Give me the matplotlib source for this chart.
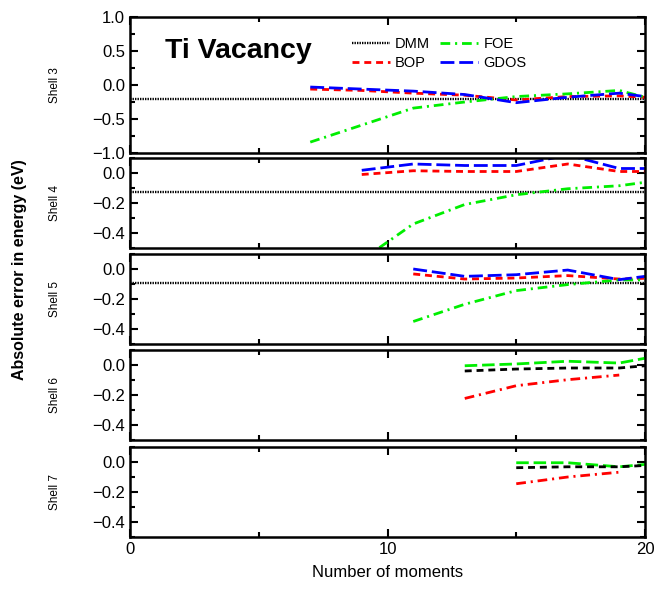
import matplotlib
matplotlib.use("Agg")
import matplotlib.pyplot as plt
from matplotlib.ticker import MultipleLocator

plt.rcParams['font.family'] = ['Liberation Sans', 'DejaVu Sans']
plt.rcParams['lines.scale_dashes'] = False

# ---------------- data ----------------
shells = ["Shell 3", "Shell 4", "Shell 5", "Shell 6", "Shell 7"]

# Shell 3
s3_x = [7, 9, 11, 13, 15, 17, 19, 20]
s3_dmm = -0.21
s3_bop = [-0.06, -0.08, -0.12, -0.15, -0.22, -0.17, -0.16, -0.18]
s3_gdos = [-0.03, -0.06, -0.09, -0.14, -0.26, -0.18, -0.12, -0.17]
s3_foe = [-0.84, -0.59, -0.34, -0.25, -0.17, -0.13, -0.08, -0.18]

# Shell 4
s4_x = [9, 11, 13, 15, 17, 19, 20]
s4_dmm = -0.125
s4_bop = [-0.01, 0.015, 0.01, 0.01, 0.06, 0.01, 0.01]
s4_gdos = [0.018, 0.06, 0.05, 0.05, 0.12, 0.03, 0.03]
s4_foe = [-0.58, -0.34, -0.21, -0.145, -0.105, -0.085, -0.062]

# Shell 5
s5_x = [11, 13, 15, 17, 19, 20]
s5_dmm = -0.095
s5_bop = [-0.033, -0.067, -0.06, -0.044, -0.067, -0.062]
s5_gdos = [0.0, -0.049, -0.038, -0.007, -0.071, -0.049]
s5_foe = [-0.35, -0.235, -0.144, -0.104, -0.073, -0.073]

# Shell 6
s6_x = [13, 15, 17, 19, 20]
s6_green = [-0.005, 0.007, 0.025, 0.013, 0.045]
s6_black = [-0.04, -0.027, -0.02, -0.02, -0.005]
s6_red_x = [13, 15, 17, 19]
s6_red = [-0.223, -0.138, -0.098, -0.067]

# Shell 7
s7_x = [15, 17, 19, 20]
s7_green = [-0.005, -0.005, -0.032, -0.016]
s7_black = [-0.038, -0.032, -0.032, -0.023]
s7_red_x = [15, 17, 19]
s7_red = [-0.145, -0.10, -0.068]

# ---------------- styles ----------------
LW = 2.0
dmm_style = dict(color='black', lw=1.7, dashes=(1.0, 0.8))
bop_style = dict(color='red', lw=LW, dashes=(5, 3.5))
gdos_style = dict(color='blue', lw=LW, dashes=(10, 3.5))
foe_style = dict(color='#00ee00', lw=LW, dashes=(7, 3.5, 1.5, 3.5))
green_long = dict(color='#00ee00', lw=LW, dashes=(9, 3.5))
black_dash = dict(color='black', lw=LW, dashes=(5, 3.5))
red_dashdot = dict(color='red', lw=LW, dashes=(7, 3.5, 1.5, 3.5))

W, H = 654, 590
fig = plt.figure(figsize=(W / 100, H / 100), dpi=100)

left = 130 / W
width = 515 / W
panels_px = [(17, 153), (158, 248), (254, 344), (350, 440), (447, 537)]
axes = []
for top, bot in panels_px:
    ax = fig.add_axes([left, 1 - bot / H, width, (bot - top) / H])
    axes.append(ax)

for i, ax in enumerate(axes):
    ax.set_xlim(0, 20)
    ax.xaxis.set_major_locator(MultipleLocator(10))
    ax.xaxis.set_minor_locator(MultipleLocator(5))
    if i == 0:
        ax.set_ylim(-1.0, 1.0)
        ax.yaxis.set_major_locator(MultipleLocator(0.5))
        ax.yaxis.set_minor_locator(MultipleLocator(0.25))
    else:
        ax.set_ylim(-0.5, 0.1)
        ax.yaxis.set_major_locator(MultipleLocator(0.2))
        ax.yaxis.set_minor_locator(MultipleLocator(0.1))
    ax.tick_params(which='both', direction='in', top=True, right=True,
                   width=1.5, labelsize=12)
    ax.tick_params(which='major', length=6)
    ax.tick_params(which='minor', length=3.5)
    for sp in ax.spines.values():
        sp.set_linewidth(1.8)
    if i < 4:
        ax.tick_params(labelbottom=False)
    ax.text(-0.146, 0.5, shells[i], transform=ax.transAxes, rotation=90,
            ha='center', va='center', fontsize=8.5)

# Shell 3
ax = axes[0]
ax.axhline(s3_dmm, label='DMM', **dmm_style)
ax.plot(s3_x, s3_bop, label='BOP', **bop_style)
ax.plot(s3_x, s3_foe, label='FOE', **foe_style)
ax.plot(s3_x, s3_gdos, label='GDOS', **gdos_style)
h, l = ax.get_legend_handles_labels()
ax.legend(h, l, ncol=2,
          loc='upper left', bbox_to_anchor=(0.431, 0.85), frameon=False,
          fontsize=10.5, handlelength=2.6, handletextpad=0.35,
          columnspacing=0.7, labelspacing=0.32, borderpad=0, borderaxespad=0)
ax.text(1.35, 0.5, "Ti Vacancy", fontsize=20.5, fontweight='bold',
        ha='left', va='center')

# Shell 4
ax = axes[1]
ax.axhline(s4_dmm, **dmm_style)
ax.plot(s4_x, s4_bop, **bop_style)
ax.plot(s4_x, s4_foe, **foe_style)
ax.plot(s4_x, s4_gdos, **gdos_style)

# Shell 5
ax = axes[2]
ax.axhline(s5_dmm, **dmm_style)
ax.plot(s5_x, s5_bop, **bop_style)
ax.plot(s5_x, s5_foe, **foe_style)
ax.plot(s5_x, s5_gdos, **gdos_style)

# Shell 6
ax = axes[3]
ax.plot(s6_x, s6_green, **green_long)
ax.plot(s6_x, s6_black, **black_dash)
ax.plot(s6_red_x, s6_red, **red_dashdot)

# Shell 7
ax = axes[4]
ax.plot(s7_x, s7_green, **green_long)
ax.plot(s7_x, s7_black, **black_dash)
ax.plot(s7_red_x, s7_red, **red_dashdot)

axes[4].set_xlabel("Number of moments", fontsize=12, labelpad=6)
fig.text(0.03, 1 - 270 / H, "Absolute error in energy (eV)", rotation=90,
         ha='center', va='center', fontsize=11.5, fontweight='bold')

fig.savefig("out.png", dpi=100)
